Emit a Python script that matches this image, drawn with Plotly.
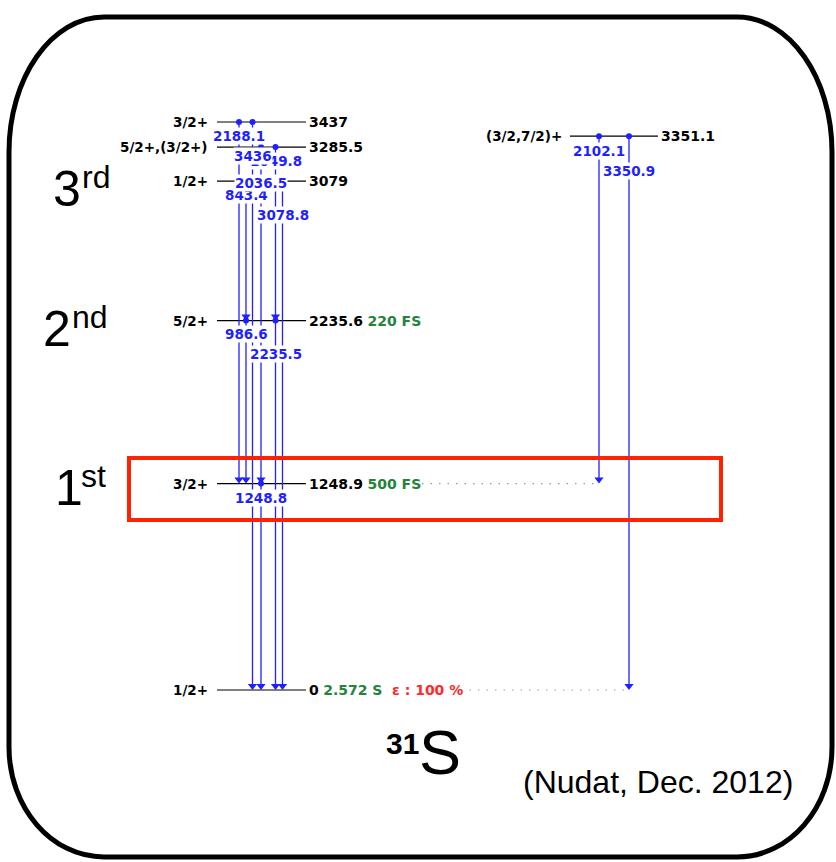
import plotly.graph_objects as go

# ---------------- data ----------------
level_energy = [0.0, 1248.9, 2235.6, 3079.0, 3285.5, 3437.0, 3351.1]
level_energy_text = ["0", "1248.9", "2235.6", "3079", "3285.5", "3437", "3351.1"]
level_spin = ["1/2+", "3/2+", "5/2+", "1/2+", "5/2+,(3/2+)", "3/2+", "(3/2,7/2)+"]
level_halflife = ["2.572 S", "500 FS", "220 FS", "", "", "", ""]
level_column = [0, 0, 0, 0, 0, 0, 1]

gamma_from = [3437.0, 3437.0, 3285.5, 3285.5, 3079.0, 3079.0, 2235.6, 2235.6, 1248.9, 3351.1, 3351.1]
gamma_to = [1248.9, 0.0, 1248.9, 2235.6, 2235.6, 0.0, 1248.9, 0.0, 0.0, 1248.9, 0.0]
gamma_text = ["2188.1", "3436", "2036.5", "1049.8", "843.4", "3078.8",
              "986.6", "2235.5", "1248.8", "2102.1", "3350.9"]

ground_decay = "ε : 100 %"
ordinal_num = ["1", "2", "3"]
ordinal_suffix = ["st", "nd", "rd"]
ordinal_level = [1248.9, 2235.6, 3079.0]
nucleus_mass = "31"
nucleus_symbol = "S"
source_note = "(Nudat, Dec. 2012)"

# ---------------- layout constants ----------------
W, H = 836, 862
Y0_PX, YTOP_PX = 690.0, 122.0          # pixel rows of 0 keV and of the top level
KPX = (Y0_PX - YTOP_PX) / max(level_energy)   # pixels per keV
def dE(px):
    return px / KPX

COL_LINE = [(217, 306), (570, 658)]
SPIN_RIGHT = [210, 564]
ENERGY_LEFT = [307, 659]
gamma_x = [239, 252.5, 261, 275.5, 246, 282.5, 246, 275.5, 261, 599, 629]
gamma_label_dy = [14, 34, 35.5, 13.5, 14, 34, 13, 33, 14, 15, 35]
label_order = [0, 3, 1, 4, 2, 5, 6, 7, 8, 9, 10]
ordinal_x = [(53, 79), (41, 70), (51, 80)]
ordinal_dy = [4, 8, 8]

BLUE = "#1f1fff"
GREEN = "#23843a"
RED = "#ff2a2a"
LVL_FONT = "DejaVu Sans"
ARIAL = "Liberation Sans, Arial"

fig = go.Figure()

# level lines
for e, c in zip(level_energy, level_column):
    x0, x1 = COL_LINE[c]
    fig.add_trace(go.Scatter(x=[x0, x1], y=[e, e], mode="lines",
                             line=dict(color="black", width=1.2),
                             hoverinfo="skip", showlegend=False))

# dotted feeding guides
fig.add_trace(go.Scatter(x=[422, 596], y=[1248.9, 1248.9], mode="lines",
                         line=dict(color="#9a9a9a", width=1.2, dash="1.5px,7px"),
                         hoverinfo="skip", showlegend=False))
fig.add_trace(go.Scatter(x=[461, 626], y=[0.0, 0.0], mode="lines",
                         line=dict(color="#9a9a9a", width=1.2, dash="1.5px,7px"),
                         hoverinfo="skip", showlegend=False))

# gamma transitions
ARROW = 8
for gx, ei, ef in zip(gamma_x, gamma_from, gamma_to):
    fig.add_trace(go.Scatter(x=[gx, gx], y=[ei, ef + dE(2)], mode="lines",
                             line=dict(color=BLUE, width=1.3),
                             hoverinfo="skip", showlegend=False))
    fig.add_trace(go.Scatter(x=[gx], y=[ef + dE(ARROW / 2)], mode="markers",
                             marker=dict(symbol="triangle-down", size=ARROW, color=BLUE,
                                         line=dict(width=0)),
                             hoverinfo="skip", showlegend=False))
    fig.add_trace(go.Scatter(x=[gx], y=[ei], mode="markers",
                             marker=dict(symbol="circle", size=6, color=BLUE, line=dict(width=0)),
                             hoverinfo="skip", showlegend=False))

# invisible trace on pixel axis
fig.add_trace(go.Scatter(x=[0], y=[0], yaxis="y2", mode="markers",
                         marker=dict(opacity=0), hoverinfo="skip", showlegend=False))

ann = []
# gamma labels (white boxes hide the lines behind them)
for i in label_order:
    ann.append(dict(x=gamma_x[i], y=gamma_from[i] - dE(gamma_label_dy[i]), xref="x", yref="y",
                    text="<b>%s</b>" % gamma_text[i], showarrow=False, xanchor="center",
                    yanchor="middle", bgcolor="white", borderpad=0,
                    font=dict(family=LVL_FONT, size=13.5, color=BLUE)))

# level spins and energies
for e, et, sp, hl, c in zip(level_energy, level_energy_text, level_spin, level_halflife, level_column):
    ann.append(dict(x=SPIN_RIGHT[c], y=e, xref="x", yref="y", text="<b>%s</b>" % sp,
                    showarrow=False, xanchor="right", yanchor="middle",
                    font=dict(family=LVL_FONT, size=13.5, color="black")))
    txt = "<b>%s</b>" % et
    if hl:
        txt += " <span style='color:%s'><b>%s</b></span>" % (GREEN, hl)
    ann.append(dict(x=ENERGY_LEFT[c], y=e, xref="x", yref="y", text=txt,
                    showarrow=False, xanchor="left", yanchor="middle",
                    font=dict(family=LVL_FONT, size=14, color="black")))
ann.append(dict(x=390, y=0.0, xref="x", yref="y", text="<b>%s</b>" % ground_decay,
                showarrow=False, xanchor="left", yanchor="middle",
                font=dict(family=LVL_FONT, size=14, color=RED)))

# ordinal labels
for (xn, xs), num, suf, lev, dy in zip(ordinal_x, ordinal_num, ordinal_suffix, ordinal_level, ordinal_dy):
    ann.append(dict(x=xn, y=lev - dE(dy), xref="x", yref="y", text=num, showarrow=False,
                    xanchor="left", yanchor="middle",
                    font=dict(family=ARIAL, size=50, color="black")))
    ann.append(dict(x=xs, y=lev - dE(dy - 12), xref="x", yref="y", text=suf, showarrow=False,
                    xanchor="left", yanchor="middle",
                    font=dict(family=ARIAL, size=32, color="black")))

# nucleus label and source
ann.append(dict(x=421, y=743, xref="x", yref="y2", text="<b>%s</b>" % nucleus_mass, showarrow=False,
                xanchor="right", yanchor="middle", font=dict(family=ARIAL, size=30, color="black")))
ann.append(dict(x=417, y=752, xref="x", yref="y2", text=nucleus_symbol, showarrow=False,
                xanchor="left", yanchor="middle", font=dict(family=ARIAL, size=63, color="black")))
ann.append(dict(x=521, y=782, xref="x", yref="y2", text=source_note, showarrow=False,
                xanchor="left", yanchor="middle", font=dict(family=ARIAL, size=32, color="black")))

# rounded frame
def rounded_path(x0, y0, x1, y1, rxt, ryt, rxb, ryb):
    k = 0.5523
    p = []
    p.append("M %g,%g" % (x0 + rxt, y0))
    p.append("L %g,%g" % (x1 - rxt, y0))
    p.append("C %g,%g %g,%g %g,%g" % (x1 - rxt + k * rxt, y0, x1, y0 + ryt - k * ryt, x1, y0 + ryt))
    p.append("L %g,%g" % (x1, y1 - ryb))
    p.append("C %g,%g %g,%g %g,%g" % (x1, y1 - ryb + k * ryb, x1 - rxb + k * rxb, y1, x1 - rxb, y1))
    p.append("L %g,%g" % (x0 + rxb, y1))
    p.append("C %g,%g %g,%g %g,%g" % (x0 + rxb - k * rxb, y1, x0, y1 - ryb + k * ryb, x0, y1 - ryb))
    p.append("L %g,%g" % (x0, y0 + ryt))
    p.append("C %g,%g %g,%g %g,%g" % (x0, y0 + ryt - k * ryt, x0 + rxt - k * rxt, y0, x0 + rxt, y0))
    p.append("Z")
    return " ".join(p)

shapes = [
    dict(type="path", xref="x", yref="y2", path=rounded_path(9, 17, 832, 857, 95, 135, 95, 110),
         line=dict(color="black", width=5)),
    dict(type="rect", xref="x", yref="y2", x0=129, x1=721, y0=458, y1=520,
         line=dict(color="#ff2200", width=4)),
]

fig.update_layout(
    width=W, height=H, autosize=False,
    margin=dict(l=0, r=0, t=0, b=0),
    paper_bgcolor="white", plot_bgcolor="white",
    xaxis=dict(range=[0, W], visible=False, fixedrange=True),
    yaxis=dict(range=[(Y0_PX - H) / KPX, Y0_PX / KPX], visible=False, fixedrange=True),
    yaxis2=dict(range=[H, 0], overlaying="y", visible=False, fixedrange=True),
    annotations=ann, shapes=shapes, showlegend=False,
)

fig.write_html("out.html", config={"displayModeBar": False},
               post_script="document.body.style.margin='0px';document.body.style.overflow='hidden';")
